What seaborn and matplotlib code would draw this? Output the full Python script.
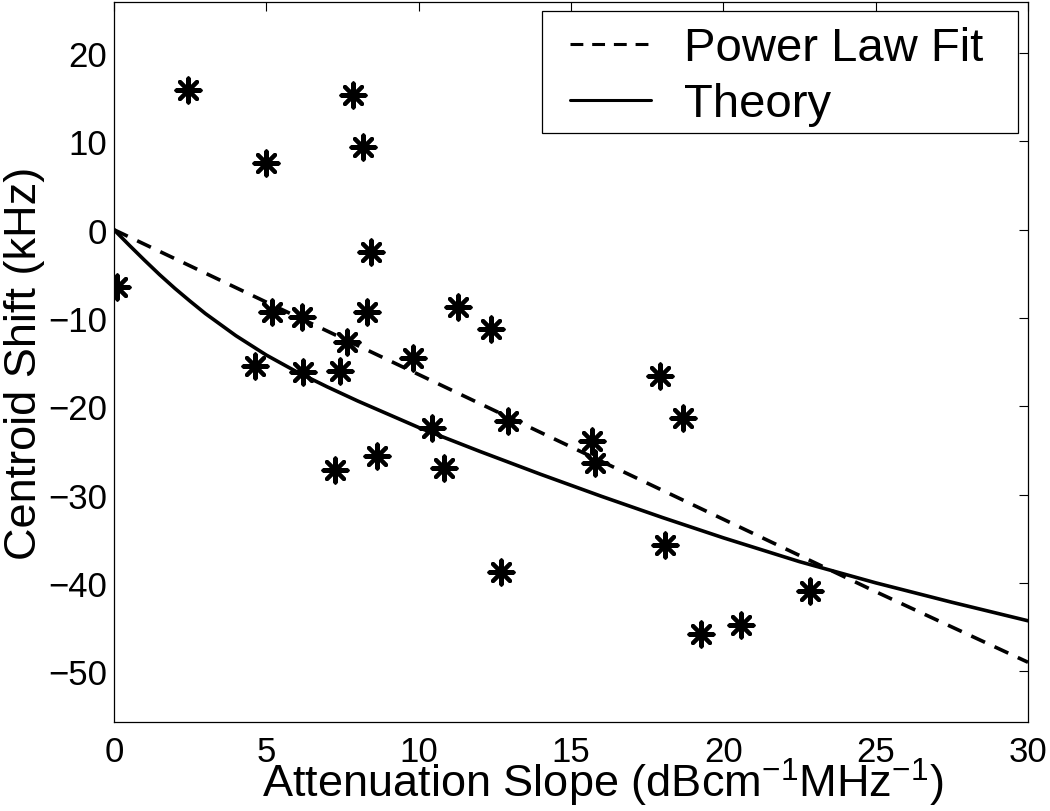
import matplotlib
matplotlib.use("Agg")
import matplotlib.pyplot as plt
from matplotlib.patches import Rectangle
import seaborn as sns
import pandas as pd

atten_slope = [0.09, 2.42, 5.00, 5.19, 6.17, 4.64, 6.19, 7.85, 8.17, 8.42,
               8.31, 7.65, 7.41, 9.81, 11.29, 12.39, 12.92, 10.45, 8.64, 7.24,
               10.83, 17.93, 18.67, 15.69, 15.80, 18.07, 12.70, 19.28, 20.57, 22.84]
centroid_shift = [-6.52, 15.85, 7.55, -9.35, -9.85, -15.40, -16.15, 15.28, 9.33, -2.56,
                  -9.35, -12.68, -15.96, -14.56, -8.79, -11.24, -21.70, -22.49, -25.60, -27.20,
                  -27.00, -16.53, -21.36, -23.88, -26.45, -35.77, -38.79, -45.77, -44.83, -40.98]

# Power law fit curve
fit_x = [0, 5, 10, 15, 20, 25, 30]
fit_y = [0, -8.2, -16.4, -24.6, -32.8, -41.0, -49.0]

# Theory curve
theory_x = [0, 0.5, 1, 1.5, 2, 2.5, 3, 4, 5, 6, 7, 8, 9, 10, 12, 14, 16, 18, 20, 22.5, 25, 27.5, 30]
theory_y = [0, -1.75, -3.45, -5.1, -6.65, -8.1, -9.5, -12.0, -14.2, -16.1, -17.8, -19.4, -20.9, -22.4,
            -25.1, -27.7, -30.2, -32.6, -34.9, -37.6, -40.0, -42.2, -44.3]

x_ticks = [0, 5, 10, 15, 20, 25, 30]
y_ticks = [-50, -40, -30, -20, -10, 0, 10, 20]

sns.set_style("white")
plt.rcParams["font.family"] = ["Liberation Sans", "DejaVu Sans"]
plt.rcParams["mathtext.fontset"] = "custom"
plt.rcParams["mathtext.rm"] = "Liberation Sans"
plt.rcParams["mathtext.it"] = "Liberation Sans"
plt.rcParams["mathtext.bf"] = "Liberation Sans"
plt.rcParams["text.color"] = "black"

W, H = 1050, 812
fig = plt.figure(figsize=(W / 100, H / 100), dpi=100)
ax_l, ax_r, ax_t, ax_b = 114, 1028, 3, 723.3
ax = fig.add_axes([ax_l / W, 1 - ax_b / H, (ax_r - ax_l) / W, (ax_b - ax_t) / H])

def ax_x(px):
    return (px - ax_l) / (ax_r - ax_l)

def ax_y(py):
    return (ax_b - py) / (ax_b - ax_t)

pts = pd.DataFrame({"x": atten_slope, "y": centroid_shift})
fit = pd.DataFrame({"x": fit_x, "y": fit_y})
th = pd.DataFrame({"x": theory_x, "y": theory_y})

sns.lineplot(data=fit, x="x", y="y", ax=ax, color="black", linewidth=2.6,
             label="Power Law Fit", sort=False)
ax.lines[-1].set_dashes((4.2, 2.9))
sns.lineplot(data=th, x="x", y="y", ax=ax, color="black", linewidth=2.6,
             label="Theory", sort=False)
sns.scatterplot(data=pts, x="x", y="y", ax=ax, marker=(8, 2, 0), s=300,
                color="black", edgecolor="black", linewidth=2.9, legend=False, zorder=3)

ax.set_xlim(0, 30)
ax.set_ylim(-55.8, 25.8)
ax.set_xticks(x_ticks)
ax.set_yticks(y_ticks)
ax.set_xticklabels([str(t) for t in x_ticks])
ax.set_yticklabels([str(t).replace("-", "\u2212") for t in y_ticks])

ax.tick_params(axis="both", which="both", direction="in", length=6.5, width=0.8,
               labelsize=25, top=True, right=True, color="black", labelcolor="black")
ax.tick_params(axis="x", pad=9)
ax.tick_params(axis="y", pad=5)
for sp in ax.spines.values():
    sp.set_visible(True)
    sp.set_color("black")
    sp.set_linewidth(0.9)

ax.set_xlabel(r"Attenuation Slope (dBcm$^{-1}$MHz$^{-1}$)", fontsize=32.5, color="black")
ax.set_ylabel("Centroid Shift (kHz)", fontsize=32.5, color="black")
ax.xaxis.set_label_coords(ax_x(603), -0.046)
ax.yaxis.set_label_coords(-0.075, 0.5)

# legend frame (MATLAB-style box)
frame = Rectangle((ax_x(542), ax_y(134)), ax_x(1018) - ax_x(542), ax_y(12) - ax_y(134),
                  transform=ax.transAxes, facecolor="white", edgecolor="black",
                  linewidth=0.9, zorder=4.5, clip_on=False)
ax.add_patch(frame)

leg = ax.legend(loc="upper left", bbox_to_anchor=(ax_x(560), ax_y(17)), fontsize=34,
                frameon=False, handlelength=1.7, handletextpad=0.7,
                labelspacing=0.25, borderpad=0.22, borderaxespad=0.0,
                labelcolor="black")
leg.set_zorder(5)
for h in leg.get_lines():
    h.set_linewidth(2.2)

fig.savefig("out.png", dpi=100)
